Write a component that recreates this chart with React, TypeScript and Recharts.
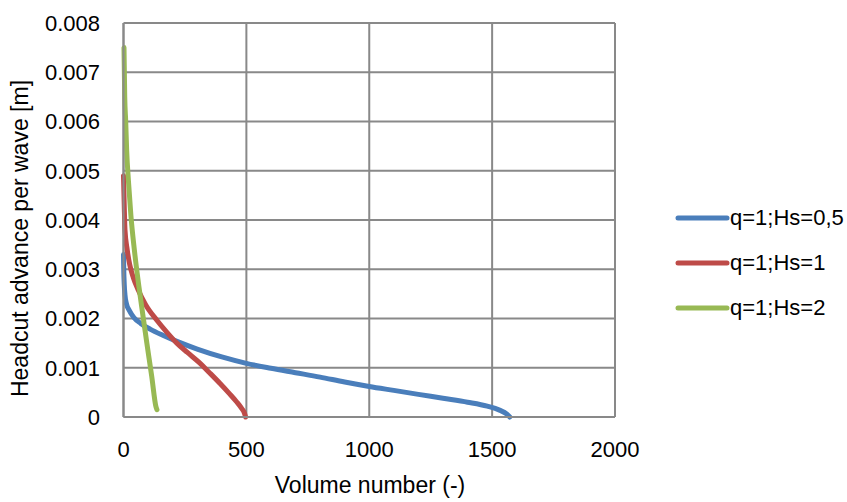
import React from "react";
import { LineChart, Line, XAxis, YAxis, CartesianGrid, Label } from "recharts";

// Volume number vs headcut advance per wave, one list per wave height
const blueX = [0, 1, 3, 6, 12, 24, 42, 70, 110, 160, 220, 300, 400, 500, 600, 700, 800, 900, 1000, 1100, 1200, 1300, 1400, 1480, 1530, 1560, 1572];
const blueY = [0.0033, 0.003, 0.0027, 0.00248, 0.0023, 0.00216, 0.00202, 0.0019, 0.00178, 0.00166, 0.00153, 0.00138, 0.00122, 0.00109, 0.00099, 0.0009, 0.00081, 0.00071, 0.00062, 0.00054, 0.00046, 0.00038, 0.0003, 0.00022, 0.00014, 0.00006, 0.0];

const redX = [0, 3, 6, 15, 25, 40, 60, 90, 135, 175, 217, 260, 312, 350, 393, 430, 460, 480, 492, 497];
const redY = [0.0049, 0.0043, 0.0038, 0.0034, 0.0031, 0.00283, 0.00258, 0.00228, 0.00197, 0.00173, 0.0015, 0.00131, 0.00109, 0.0009, 0.00068, 0.00048, 0.00031, 0.00018, 0.00008, 0.0];

const greenX = [2, 5, 9, 13, 20, 30, 44, 64, 78, 95, 115, 132, 136];
const greenY = [0.0075, 0.0065, 0.006, 0.0054, 0.0048, 0.0041, 0.0034, 0.0026, 0.0021, 0.0015, 0.00082, 0.00021, 0.00015];

const xTicks = [0, 500, 1000, 1500, 2000];
const yTicks = [0, 0.001, 0.002, 0.003, 0.004, 0.005, 0.006, 0.007, 0.008];

const toPoints = (xs: number[], ys: number[]) => xs.map((x, i) => ({ x, y: ys[i] }));

const series = [
  { name: "q=1;Hs=0,5", color: "#4A7EBB", data: toPoints(blueX, blueY) },
  { name: "q=1;Hs=1", color: "#BE4B48", data: toPoints(redX, redY) },
  { name: "q=1;Hs=2", color: "#98B954", data: toPoints(greenX, greenY) },
];

const FONT = "'Liberation Sans', Arial, sans-serif";
const GRID = "#898989";

export default function App() {
  return (
    <div style={{ position: "absolute", left: 0, top: 0, width: 847, height: 502, background: "#fff", fontFamily: FONT }}>
      <LineChart width={847} height={502} margin={{ top: 23, right: 232, bottom: 0, left: 0 }}>
        <CartesianGrid stroke={GRID} strokeWidth={2} />
        <XAxis
          dataKey="x"
          type="number"
          domain={[0, 2000]}
          ticks={xTicks}
          height={85}
          tickSize={0}
          tickMargin={24}
          axisLine={{ stroke: GRID, strokeWidth: 2 }}
          tickLine={false}
          tick={{ fontSize: 22, fill: "#000", fontFamily: FONT }}
        >
          <Label
            content={() => (
              <text x={370} y={493} textAnchor="middle" fontSize={23} fontFamily={FONT} fill="#000">
                Volume number (-)
              </text>
            )}
          />
        </XAxis>
        <YAxis
          dataKey="y"
          type="number"
          domain={[0, 0.008]}
          ticks={yTicks}
          width={123.5}
          tickSize={0}
          tickMargin={23.5}
          axisLine={{ stroke: GRID, strokeWidth: 2 }}
          tickLine={false}
          tick={{ fontSize: 22, fill: "#000", fontFamily: FONT }}
          tickFormatter={(v: number) => (v === 0 ? "0" : v.toFixed(3))}
        >
          <Label
            content={() => (
              <text
                x={28}
                y={238.5}
                transform="rotate(-90, 28, 238.5)"
                textAnchor="middle"
                fontSize={23}
                fontFamily={FONT}
                fill="#000"
              >
                Headcut advance per wave [m]
              </text>
            )}
          />
        </YAxis>
        {series.map((s) => (
          <Line
            key={s.name}
            data={s.data}
            dataKey="y"
            name={s.name}
            type="monotone"
            stroke={s.color}
            strokeWidth={5}
            strokeLinecap="round"
            dot={false}
            activeDot={false}
            isAnimationActive={false}
          />
        ))}
      </LineChart>

      {/* legend on the right */}
      <div style={{ position: "absolute", left: 675, top: 195 }}>
        {series.map((s) => (
          <div key={s.name} style={{ display: "flex", alignItems: "center", height: 45 }}>
            <svg width={55} height={10}>
              <line x1={3} y1={5} x2={52} y2={5} stroke={s.color} strokeWidth={5} strokeLinecap="round" />
            </svg>
            <span style={{ fontSize: 22, color: "#000", whiteSpace: "nowrap" }}>{s.name}</span>
          </div>
        ))}
      </div>
    </div>
  );
}
